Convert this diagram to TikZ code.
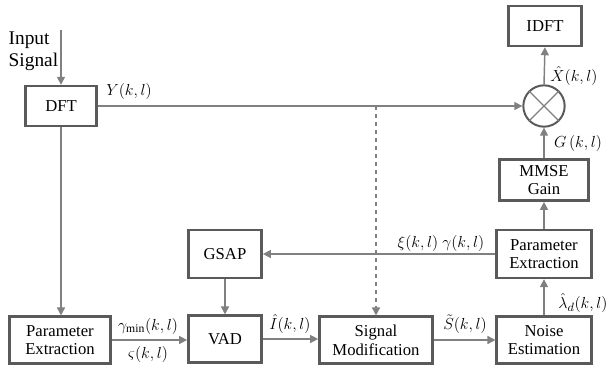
\documentclass[tikz,border=0pt]{standalone}
\usepackage{fontspec}
\setmainfont{Liberation Serif}
\usetikzlibrary{arrows.meta, positioning, calc}

\definecolor{boxgray}{HTML}{5A5A5A}
\definecolor{linegray}{HTML}{808080}

\begin{document}
\begin{tikzpicture}[
    x=0.75pt, y=-0.75pt,
    font=\fontsize{12.5}{14}\selectfont,
    block/.style={draw=boxgray, line width=1.8pt, rectangle, fill=white, align=center, inner sep=2pt, minimum height=35pt},
    mult/.style={draw=boxgray, line width=1.5pt, circle, minimum size=31pt, inner sep=0pt},
    flow/.style={draw=linegray, line width=1.1pt, -{Triangle[length=6pt, width=6pt]}},
    plain/.style={draw=linegray, line width=1.1pt},
    sig/.style={inner sep=1pt}
]
\useasboundingbox (0,0) rectangle (608,369);

% Nodes
\node[block, minimum width=53pt, minimum height=30pt] (DFT) at (61, 106) {DFT};
\node[block, minimum width=55pt, minimum height=30pt] (IDFT) at (545, 26) {IDFT};
\node[mult] (X) at (544, 106) {};
\node[block, minimum width=67pt, minimum height=31pt] (MMSE) at (544, 180) {MMSE\\Gain};
\node[block, minimum width=71pt, minimum height=36pt] (PE2) at (544, 254) {Parameter\\Extraction};
\node[block, minimum width=71pt] (NE) at (544, 340) {Noise\\Estimation};
\node[block, minimum width=85pt] (SM) at (376, 340) {Signal\\Modification};
\node[block, minimum width=55pt] (VAD) at (225, 339) {VAD};
\node[block, minimum width=55pt, minimum height=36pt] (GSAP) at (225, 254) {GSAP};
\node[block, minimum width=76pt] (PE1) at (60, 340) {Parameter\\Extraction};

% Multiplier cross
\draw[linegray, line width=1pt] (X.45) -- (X.225);
\draw[linegray, line width=1pt] (X.135) -- (X.-45);

% Input
\coordinate (in) at (61, 30);
\node[align=left, anchor=west, font=\fontsize{14.5}{16.5}\selectfont] (inlab) at (4, 51) {Input\\Signal};
\draw[flow] (in) -- (DFT.north);

% Upper path
\draw[flow] (DFT.east) -- (X.west);
\draw[flow] (X.north) -- (IDFT.south);
\draw[flow] (MMSE.north) -- (X.south);
\draw[flow] (PE2.north) -- (MMSE.south);
\draw[flow] (NE.north) -- (PE2.south);
\draw[flow] (PE2.west) -- (GSAP.east);
\coordinate (tap) at (SM.north |- DFT.east);
\draw[flow, dashed] (tap) -- (SM.north);

% Lower path
\draw[flow] (DFT.south) -- (DFT.south |- PE1.north);
\draw[flow] (PE1.east) -- (PE1.east -| VAD.west);
\draw[flow] (GSAP.south) -- (VAD.north);
\draw[flow] (VAD.east) -- (VAD.east -| SM.west);
\draw[flow] (SM.east) -- (NE.west);

% Signal labels
\node[sig] (Ylab) at (129, 91) {$Y(k,l)$};
\node[sig] (Xlab) at (574, 76) {$\hat{X}(k,l)$};
\node[sig] (Glab) at (578, 143) {$G\,(k,l)$};
\node[sig] (xglab) at (441, 243) {$\xi(k,l)\ \gamma(k,l)$};
\node[sig] (lamlab) at (583, 303) {$\hat{\lambda}_d(k,l)$};
\node[sig] (Slab) at (465, 324) {$\tilde{S}(k,l)$};
\node[sig] (Ilab) at (290, 324) {$\hat{I}(k,l)$};
\node[sig] (gmlab) at (148, 326) {$\gamma_{\mathrm{min}}(k,l)$};
\node[sig] (sglab) at (148, 354) {$\varsigma(k,l)$};

\end{tikzpicture}
\end{document}
